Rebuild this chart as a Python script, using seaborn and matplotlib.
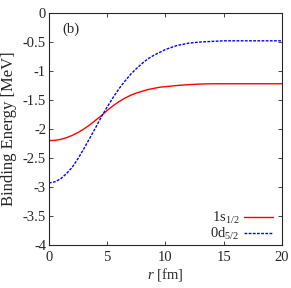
import pandas as pd
import seaborn as sns
import matplotlib
matplotlib.use('Agg')
import matplotlib.pyplot as plt

r = [0, 0.5, 1, 1.5, 2, 2.5, 3, 3.5, 4, 4.5, 5, 5.5, 6, 6.5, 7, 7.5, 8, 8.5, 9, 9.5, 10,
     11, 12, 13, 14, 15, 16, 17, 18, 19, 20]
e_1s = [-2.20, -2.195, -2.18, -2.15, -2.11, -2.06, -2.00, -1.93, -1.85, -1.77, -1.68,
        -1.60, -1.53, -1.47, -1.42, -1.38, -1.35, -1.32, -1.30, -1.28, -1.27,
        -1.25, -1.235, -1.225, -1.22, -1.22, -1.22, -1.22, -1.22, -1.22, -1.22]
e_0d = [-2.93, -2.91, -2.86, -2.77, -2.66, -2.51, -2.34, -2.16, -1.98, -1.79, -1.62,
        -1.46, -1.31, -1.18, -1.06, -0.96, -0.87, -0.79, -0.73, -0.68, -0.63,
        -0.56, -0.52, -0.50, -0.49, -0.48, -0.48, -0.48, -0.48, -0.48, -0.48]
labels = ['1s$_{1/2}$', '0d$_{5/2}$']

df = pd.concat([
    pd.DataFrame({'r': r, 'E': e_1s, 'state': labels[0]}),
    pd.DataFrame({'r': r, 'E': e_0d, 'state': labels[1]}),
])

sns.set_style('ticks')
plt.rcParams['font.family'] = ['Liberation Serif', 'DejaVu Serif']
plt.rcParams['mathtext.fontset'] = 'custom'
plt.rcParams['mathtext.rm'] = 'Liberation Serif'
plt.rcParams['mathtext.it'] = 'Liberation Serif:italic'

fs = 10.5
fig = plt.figure(figsize=(2.91, 2.88), dpi=100)
ax = fig.add_axes([0.168, 0.149, 0.801, 0.806])
sns.lineplot(data=df, x='r', y='E', hue='state', style='state',
             palette=['#ff0000', '#0000ff'], dashes=[(None, None), (2, 1)],
             linewidth=1, ax=ax)

ax.set_xlim(0, 20)
ax.set_ylim(-4, 0)
ax.set_xticks([0, 5, 10, 15, 20])
ax.set_yticks([0, -0.5, -1, -1.5, -2, -2.5, -3, -3.5, -4])
ax.set_yticklabels(['0', '-0.5', '-1', '-1.5', '-2', '-2.5', '-3', '-3.5', '-4'])
ax.tick_params(direction='in', top=True, right=True, labelsize=fs, length=3, width=0.6, pad=2)
ax.tick_params(axis='x', pad=4)
for s in ax.spines.values():
    s.set_linewidth(0.8)
ax.set_xlabel('$r$ [fm]', fontsize=fs, labelpad=2)
ax.set_ylabel('Binding Energy [MeV]', fontsize=12, labelpad=4)
ax.text(0.06, 0.93, '(b)', transform=ax.transAxes, fontsize=fs, ha='left', va='center')

leg = ax.legend(loc='lower right', bbox_to_anchor=(0.975, 0.0), frameon=False,
                markerfirst=False, fontsize=fs, handlelength=2.0, handletextpad=0.3,
                labelspacing=0.0, borderaxespad=0, borderpad=0.2, title=None)
for t in leg.get_texts():
    t.set_ha('right')

fig.savefig('out.png', dpi=100)
